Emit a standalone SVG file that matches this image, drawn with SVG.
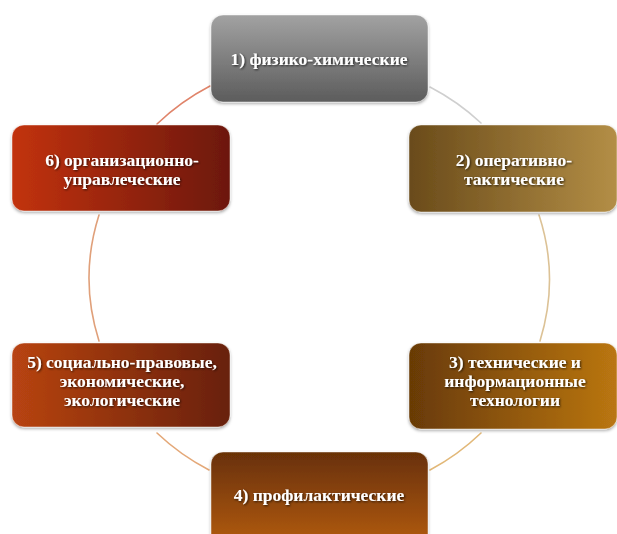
<svg xmlns="http://www.w3.org/2000/svg" width="617" height="534" viewBox="0 0 617 534">
  <defs>
    <linearGradient id="g1" x1="0" y1="0" x2="0" y2="1">
      <stop offset="0" stop-color="#a2a2a2"/>
      <stop offset="1" stop-color="#5c5c5c"/>
    </linearGradient>
    <linearGradient id="g2" x1="0" y1="0" x2="1" y2="0">
      <stop offset="0" stop-color="#6a4b1a"/>
      <stop offset="1" stop-color="#b38e46"/>
    </linearGradient>
    <linearGradient id="g3" x1="0" y1="0" x2="1" y2="0">
      <stop offset="0" stop-color="#683a06"/>
      <stop offset="1" stop-color="#ba7612"/>
    </linearGradient>
    <linearGradient id="g4" x1="0" y1="0" x2="0" y2="1">
      <stop offset="0" stop-color="#683006"/>
      <stop offset="1" stop-color="#b45c12"/>
    </linearGradient>
    <linearGradient id="g5" x1="0" y1="0" x2="1" y2="0">
      <stop offset="0" stop-color="#b84412"/>
      <stop offset="1" stop-color="#682008"/>
    </linearGradient>
    <linearGradient id="g6" x1="0" y1="0" x2="1" y2="0">
      <stop offset="0" stop-color="#c2320e"/>
      <stop offset="1" stop-color="#6c1808"/>
    </linearGradient>
    <filter id="boxShadow" x="-10%" y="-10%" width="120%" height="130%">
      <feDropShadow dx="0" dy="1.5" stdDeviation="1.5" flood-color="#000" flood-opacity="0.35"/>
    </filter>
    <filter id="textShadow" x="-10%" y="-30%" width="120%" height="160%">
      <feDropShadow dx="1" dy="1" stdDeviation="0.8" flood-color="#000" flood-opacity="0.7"/>
    </filter>
  </defs>
  <style>
    .box { stroke: #ffffff; stroke-opacity: 0.45; stroke-width: 1; filter: url(#boxShadow); }
    .lbl { font-family: "Liberation Serif", "Times New Roman", serif; font-weight: bold; font-size: 17.5px; fill: #ffffff; text-anchor: middle; filter: url(#textShadow); }
    .arc { fill: none; stroke-width: 1.6; stroke-linecap: round; }
  </style>

  <rect width="617" height="534" fill="#ffffff"/>

  <!-- cycle connectors: segments of one ellipse between neighbouring boxes -->
  <g id="connectors">
    <path class="arc" stroke="#cfcfcf" d="M430,87 A230,218 0 0 1 481,123"/>
    <path class="arc" stroke="#dcc296" d="M539,215 A230,218 0 0 1 540,341"/>
    <path class="arc" stroke="#e2b878" d="M481,433 A230,218 0 0 1 430,470"/>
    <path class="arc" stroke="#e4a878" d="M209,470 A230,218 0 0 1 157,433"/>
    <path class="arc" stroke="#e0a07a" d="M99,341 A230,218 0 0 1 99,215"/>
    <path class="arc" stroke="#e0846a" d="M157,124 A230,218 0 0 1 210,86"/>
  </g>

  <g id="node1">
    <rect class="box" x="211" y="15" width="217" height="87" rx="12" fill="url(#g1)"/>
    <text class="lbl" x="319" y="65">1) физико-химические</text>
  </g>

  <g id="node2">
    <rect class="box" x="409" y="125" width="208" height="87" rx="12" fill="url(#g2)"/>
    <text class="lbl" x="514" y="166">2) оперативно-</text>
    <text class="lbl" x="514" y="185">тактические</text>
  </g>

  <g id="node3">
    <rect class="box" x="409" y="343" width="208" height="86" rx="12" fill="url(#g3)"/>
    <text class="lbl" x="515" y="368">3) технические и</text>
    <text class="lbl" x="515" y="387">информационные</text>
    <text class="lbl" x="515" y="406">технологии</text>
  </g>

  <g id="node4">
    <rect class="box" x="211" y="452" width="217" height="95" rx="12" fill="url(#g4)"/>
    <text class="lbl" x="319" y="501">4) профилактические</text>
  </g>

  <g id="node5">
    <rect class="box" x="12" y="343" width="218" height="84" rx="12" fill="url(#g5)"/>
    <text class="lbl" x="122" y="368">5) социально-правовые,</text>
    <text class="lbl" x="122" y="387">экономические,</text>
    <text class="lbl" x="122" y="406">экологические</text>
  </g>

  <g id="node6">
    <rect class="box" x="12" y="125" width="218" height="86" rx="12" fill="url(#g6)"/>
    <text class="lbl" x="122" y="166">6) организационно-</text>
    <text class="lbl" x="122" y="185">управлеческие</text>
  </g>
</svg>
